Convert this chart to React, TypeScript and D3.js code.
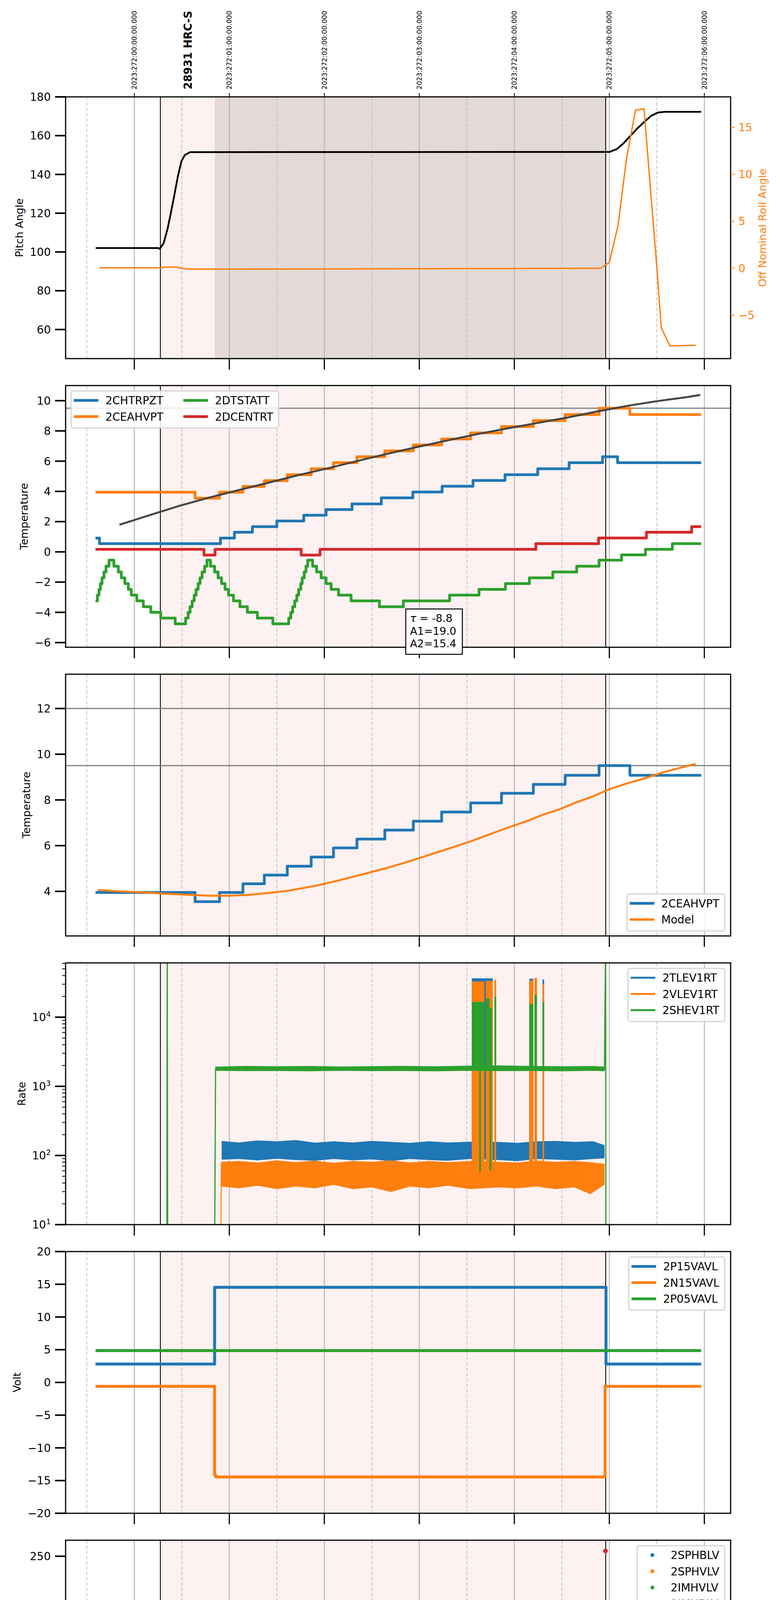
import React from 'react';
import * as d3 from 'd3';

// time is in minutes after 2023:272:00:00 UTC (the "20h" local tick)
const tDomain = [-43.4, 376.6];
const hourTicks = [0, 60, 120, 180, 240, 300, 360];
const halfTicks = [-30, 30, 90, 150, 210, 270, 330];
const hourLabels = ['20h', '21h', '22h', '23h', '00h', '01h', '02h'];
const doyLabels = hourTicks.map((_, k) => `2023:272:0${k}:00:00.000`);
const obsStart = 16.45;
const obsStop = 297.7;
const darkStart = 50.8;
const obsLabel = '28931 HRC-S';
const obsLabelTime = 34.0;

// panel 1: pitch and off nominal roll
const pitch = [[-24.4, 102.0], [15.1, 102.0], [16.0, 101.6], [18.5, 104.5], [21.0, 112], [23.3, 121], [25.25, 129.2], [27.5, 139], [29.7, 146.7], [31.9, 150.0], [35.2, 151.5], [300.0, 151.6], [304.8, 153.1], [309.0, 156.1], [313.2, 159.8], [317.4, 163.5], [322.2, 167.2], [326.4, 170.2], [330.6, 171.9], [334.8, 172.3], [358.0, 172.3]];
const roll = [[-22.2, 0.05], [16.4, 0.05], [19.8, 0.12], [26.5, 0.12], [31.2, -0.05], [37.2, -0.1], [120, -0.08], [210, -0.04], [294.4, 0.0], [300.0, 0.62], [305.5, 4.56], [310.8, 11.6], [316.5, 16.83], [321.9, 16.97], [330.3, -0.55], [332.8, -6.36], [338.2, -8.26], [354.5, -8.2]];

// panel 2 & 3: temperatures (step data, last point closes the step)
const ceahvpt = [[-24.5, 3.95], [38.4, 3.55], [53.8, 3.95], [68.6, 4.33], [82.1, 4.71], [96.6, 5.1], [111.7, 5.5], [125.8, 5.9], [140.6, 6.29], [158.2, 6.68], [176.2, 7.07], [194.1, 7.47], [212.4, 7.87], [231.9, 8.29], [252.0, 8.68], [272.1, 9.08], [293.5, 9.5], [313.0, 9.08], [358.0, 9.08]];
const chtrpzt = [[-24.5, 0.91], [-22.0, 0.54], [54.4, 0.91], [63.2, 1.3], [74.6, 1.67], [90.0, 2.04], [107.0, 2.42], [121.1, 2.8], [137.5, 3.17], [156.0, 3.57], [175.9, 3.96], [194.4, 4.34], [213.9, 4.72], [234.1, 5.1], [254.8, 5.5], [274.6, 5.9], [295.7, 6.29], [305.2, 5.9], [358.0, 5.9]];
const dcentrt = [[-24.5, 0.17], [44.0, -0.21], [51.0, 0.17], [105.4, -0.21], [117.3, 0.17], [253.6, 0.54], [293.2, 0.92], [323.4, 1.3], [352.0, 1.67], [358.0, 1.67]];
const dtstatt = [[-24.5, -3.24], [-23.3, -2.86], [-22.3, -2.48], [-21.4, -2.1], [-20.4, -1.72], [-19.2, -1.33], [-17.9, -0.95], [-16.0, -0.55], [-12.9, -0.95], [-10.1, -1.33], [-8.2, -1.72], [-6.0, -2.1], [-3.8, -2.48], [-1.9, -2.86], [1.6, -3.24], [5.7, -3.63], [10.4, -4.0], [16.7, -4.38], [25.8, -4.76], [32.4, -4.38], [34.0, -4.0], [35.2, -3.63], [36.5, -3.24], [37.8, -2.86], [39.0, -2.48], [40.3, -2.1], [41.5, -1.72], [42.8, -1.33], [44.4, -0.95], [45.9, -0.55], [48.1, -0.95], [50.7, -1.33], [52.9, -1.72], [55.1, -2.1], [57.3, -2.48], [59.5, -2.86], [62.6, -3.24], [66.7, -3.63], [71.4, -4.0], [77.7, -4.38], [87.5, -4.76], [97.5, -4.38], [98.8, -4.0], [100.0, -3.63], [101.3, -3.24], [102.6, -2.86], [103.8, -2.48], [105.1, -2.1], [106.0, -1.72], [107.3, -1.33], [108.4, -0.95], [109.5, -0.55], [112.6, -0.95], [115.1, -1.33], [118.0, -1.72], [121.1, -2.1], [124.3, -2.48], [129.0, -2.86], [136.9, -3.24], [154.8, -3.63], [169.9, -3.24], [199.1, -2.86], [217.7, -2.48], [234.4, -2.1], [249.5, -1.72], [264.3, -1.33], [279.4, -0.95], [293.5, -0.55], [307.7, -0.2], [322.8, 0.17], [339.8, 0.54], [358.0, 0.54]];
const fitLine = [[-9.4, 1.79], [9.4, 2.42], [28.3, 3.04], [47.2, 3.59], [66.1, 4.09], [84.9, 4.58], [103.8, 5.08], [122.7, 5.54], [141.6, 6.03], [160.4, 6.5], [179.3, 6.95], [198.2, 7.38], [217.1, 7.8], [236.0, 8.17], [254.8, 8.53], [273.7, 8.89], [292.6, 9.29], [311.5, 9.66], [330.3, 9.97], [349.2, 10.24], [357.4, 10.38]];
const fitText = ['τ = -8.8', 'A1=19.0', 'A2=15.4'];
const model = [[-23.0, 4.06], [-9.4, 4.0], [6.3, 3.95], [18.9, 3.9], [34.6, 3.85], [47.2, 3.81], [59.8, 3.81], [72.4, 3.85], [84.9, 3.93], [97.5, 4.03], [107.0, 4.15], [116.4, 4.27], [129.0, 4.48], [138.4, 4.64], [149.4, 4.84], [160.4, 5.04], [171.5, 5.27], [179.3, 5.44], [190.3, 5.69], [201.3, 5.93], [212.4, 6.19], [223.4, 6.47], [234.4, 6.75], [247.0, 7.05], [258.0, 7.35], [269.0, 7.6], [278.4, 7.87], [289.4, 8.15], [300.4, 8.48], [311.5, 8.73], [322.5, 8.95], [333.5, 9.2], [344.5, 9.4], [354.5, 9.58]];
const limits2 = [9.5];
const limits3 = [9.5, 12];

// panel 4: rates. bands are [t, low, high] envelopes of the dense noisy trace
const tlevBand = [[55.4, 88, 160], [66, 90, 152], [78, 86, 163], [90, 91, 158], [102, 87, 165], [114, 85, 151], [126, 90, 158], [138, 86, 152], [150, 89, 160], [162, 84, 155], [174, 90, 150], [186, 87, 158], [198, 85, 152], [212, 90, 156], [230, 87, 155], [242, 84, 150], [254, 90, 158], [266, 88, 160], [278, 86, 155], [290, 90, 158], [296.7, 92, 140]];
const vlevBand = [[54.9, 36, 80], [66, 34, 82], [78, 37, 78], [90, 33, 84], [102, 36, 79], [114, 34, 83], [126, 38, 77], [138, 33, 82], [150, 35, 80], [162, 30, 84], [174, 36, 78], [186, 34, 82], [198, 37, 79], [212, 33, 82], [230, 35, 80], [242, 34, 78], [254, 36, 83], [266, 33, 80], [278, 35, 82], [288, 28, 79], [296.7, 38, 75]];
const shevBand = [[51.3, 1700, 1900], [70, 1680, 1950], [90, 1690, 1920], [110, 1670, 1940], [130, 1700, 1910], [150, 1680, 1930], [170, 1690, 1950], [190, 1670, 1920], [210, 1700, 1960], [230, 1680, 1980], [250, 1690, 1950], [270, 1670, 1920], [290, 1700, 1940], [296.9, 1680, 1900]];
const shevEdges = [[[20.5, 1], [20.8, 1e5], [21.1, 1], [50.6, 1], [51.3, 1750]], [[296.9, 1750], [297.6, 1e5], [297.9, 1]]];
const vlevEdges = [[[54.5, 1], [54.9, 50]]];
// bursts: [t0, t1, low, high]
const tlevBursts = [[213.1, 226.4, 90, 36500], [249.4, 252.0, 90, 36000], [257.8, 258.8, 90, 35000]];
const vlevBursts = [[213.1, 221.1, 40, 33000], [222.0, 226.4, 40, 33500], [227.4, 228.5, 40, 35000], [249.4, 252.0, 40, 34000], [252.7, 254.3, 40, 37000], [257.8, 258.8, 40, 30000]];
const shevBursts = [[213.1, 221.1, 1750, 16600], [222.0, 224.4, 1750, 18600], [224.4, 226.0, 1750, 13600], [227.4, 228.5, 1750, 19800], [217.8, 218.9, 58, 1750], [224.4, 225.5, 60, 1750], [249.4, 252.0, 1750, 15500], [252.7, 254.3, 1750, 21000], [257.8, 258.8, 1750, 16600]];

// panel 5: voltages
const p15vavl = [[-24.5, 2.8], [50.7, 14.53], [297.9, 2.8], [358.0, 2.8]];
const n15vavl = [[-24.5, -0.6], [50.7, -14.2], [51.5, -14.45], [297.3, -0.6], [358.0, -0.6]];
const p05vavl = [[-24.5, 4.87], [358.0, 4.87]];

// panel 6: HV monitor points; runs are [t0, t1, value] of densely packed samples
const sphblvPts = [[52.2, 117.8], [52.5, 101.8], [52.6, 101], [53.2, 97.5], [53.8, 91.9], [54.1, 87.2], [54.7, 82.1], [55.4, 79.1]];
const sphblvRun = [55.4, 296.7, 77.5];
const sphvlvPts = [[52.2, 127.9], [52.2, 126], [52.9, 96], [53.5, 91], [54.1, 85.3], [54.7, 80.3], [55.4, 75], [214.6, 127], [217.1, 127], [250.1, 127], [258.0, 127]];
const sphvlvRun = [55.4, 296.7, 70.7];
const imhvlvPts = [];
const imhblvPts = [[297.6, 255.4]];

// panel 7: detector temps
const spinatm = [[50.7, 6.5], [51.2, 6.0], [52.2, 5.5], [55.1, 5.05], [58.2, 4.6], [62.0, 4.15], [67.0, 3.7], [72.4, 3.25], [81.2, 2.8], [96.9, 3.25], [98.2, 3.7], [100.0, 4.15], [101.3, 4.6], [102.6, 5.05], [103.8, 5.5], [105.4, 6.0], [107.0, 6.45], [108.5, 6.96], [110.1, 7.52], [110.7, 8.02], [112.0, 7.52], [112.6, 6.96], [115.1, 6.45], [118.0, 6.0], [121.1, 5.5], [123.3, 5.05], [126.5, 4.6], [130.6, 4.15], [137.8, 3.7], [147.9, 3.25], [178.7, 2.8], [200.7, 3.25], [264.3, 3.71], [296.7, 3.71]];
const sphvatm = [[50.7, 12.9], [51.2, 13.3], [59.8, 13.58], [64.5, 13.88], [68.6, 14.18], [73.0, 14.44], [77.4, 14.69], [82.4, 14.99], [87.5, 15.27], [93.8, 15.53], [100.0, 15.83], [107.6, 16.09], [115.5, 16.39], [123.3, 16.65], [132.1, 16.96], [142.2, 17.23], [152.6, 17.5], [165.2, 17.81], [177.7, 18.11], [191.0, 18.39], [204.5, 18.68], [229.0, 18.98], [232.2, 19.27], [248.5, 19.56], [266.8, 19.85], [283.8, 20.15], [296.7, 20.15]];
const iminatm = [[50.7, 0.23], [104.8, 0.64], [207.0, 1.07], [270.6, 1.5], [296.7, 1.5]];
const imhvatm = [[50.7, -3], [50.71, 12.77], [79.3, 13.1], [80.0, 12.77], [81.8, 13.04], [99.7, 13.32], [115.5, 13.62], [129.0, 13.88], [143.1, 14.16], [156.7, 14.44], [171.5, 14.7], [186.2, 14.98], [201.3, 15.25], [229.0, 15.53], [232.2, 15.81], [248.5, 16.1], [265.2, 16.39], [282.2, 16.65], [297.3, 16.65], [297.4, 25], [297.6, -3]];
const spinatmBursts = [[213.0, 220.5, -2, 3.3], [221.8, 223.3, -2, 3.3], [225.6, 228.4, -2, 3.3], [249.0, 250.3, -2, 3.25], [253.0, 254.2, -2, 3.25], [257.5, 258.7, -2, 3.25]];
const sphvatmBursts = [[213.0, 226.6, 10.76, 19.05], [227.0, 228.2, 11.0, 19.0], [249.0, 250.3, 11.45, 19.56], [252.8, 254.0, 11.45, 19.56], [257.5, 258.7, 11.6, 19.56]];
const iminatmBursts = [[213.0, 228.4, 0.94, 3.35], [249.0, 250.3, 1.07, 3.3], [252.8, 254.0, 1.07, 3.3], [257.5, 258.7, 1.07, 3.3]];
const imhvatmBursts = [[213.0, 229.0, 15.3, 19.05], [224.5, 225.6, 10.76, 15.3], [248.8, 250.0, 16.1, 19.66], [253.3, 254.5, 16.1, 19.66], [257.5, 258.7, 16.1, 19.66]];

// panel 8: FEA temps
const fhtrmzt = [[60.4, -11], [60.41, -10.03], [68.3, -9.65], [76.1, -9.24], [82.4, -8.81], [89.0, -8.4], [96.0, -7.98], [102.9, -7.59], [109.5, -7.17], [116.4, -6.76], [123.3, -6.38], [130.6, -5.97], [137.5, -5.57], [144.1, -5.19], [151.6, -4.81], [159.5, -4.4], [167.4, -4.0], [174.6, -3.62], [182.5, -3.24], [191.0, -2.86], [198.8, -2.48], [207.6, -2.1], [209.8, -1.7], [210.2, -2.1], [220.2, -1.76], [229.0, -1.4], [232.8, -0.97], [242.2, -0.61], [251.7, -0.24], [254.8, 0.9], [255.2, -0.24], [260.2, 0.15], [269.6, 0.53], [279.4, 0.91], [288.8, 1.29], [298.9, 1.66], [322.5, 1.29], [346.1, 0.91], [358.0, 0.91]];
const fradpyt = [[85.3, -11], [85.31, -10.03], [92.2, -9.65], [99.1, -9.24], [106.3, -8.79], [113.9, -8.4], [121.1, -7.95], [128.4, -7.55], [135.3, -7.17], [142.5, -6.76], [150.4, -6.38], [158.2, -5.97], [166.7, -5.57], [174.6, -5.19], [183.4, -4.81], [191.9, -4.4], [200.4, -4.0], [209.8, -3.62], [220.2, -3.24], [229.0, -2.86], [237.5, -2.48], [247.0, -2.1], [256.4, -1.72], [266.8, -1.34], [276.2, -0.99], [287.2, -0.61], [298.9, -0.24], [307.7, -0.61], [321.8, -0.99], [346.1, -1.37], [358.0, -1.37]];
const fepratm = [[52.2, -9.05], [54.4, -8.55], [56.3, -8.15], [58.5, -7.8], [61.7, -7.4], [66.1, -7.0], [70.8, -6.6], [76.1, -6.2], [81.8, -5.8], [87.5, -5.4], [93.8, -5.0], [100.7, -4.6], [107.6, -4.2], [114.8, -3.8], [122.1, -3.4], [129.6, -3.0], [137.5, -2.6], [145.3, -2.2], [153.2, -1.8], [161.1, -1.4], [169.3, -1.0], [178.4, -0.6], [187.2, -0.2], [196.6, 0.25], [206.1, 0.65], [229.0, 1.5], [237.5, 1.9], [247.6, 2.35], [258.0, 2.8], [269.6, 3.3], [280.6, 3.8], [296.7, 3.8]];
const fe00atm = [[50.7, -11], [50.71, -8.65], [56.0, -7.43], [56.4, -8.27], [62.9, -7.84], [67.6, -7.48], [72.4, -7.1], [74.6, -7.51], [75.0, -7.1], [77.1, -6.76], [81.5, -7.95], [82.0, -6.34], [87.5, -5.97], [92.8, -5.62], [98.2, -5.24], [103.8, -4.89], [108.5, -4.5], [111.7, -6.05], [112.1, -4.5], [115.5, -4.13], [121.1, -3.8], [128.4, -3.42], [135.3, -3.1], [139.1, -2.75], [143.1, -2.43], [149.4, -2.1], [154.2, -1.78], [162.0, -1.43], [168.3, -1.07], [173.7, -0.75], [179.3, -0.45], [181.8, -0.1], [182.2, -0.45], [186.2, -0.05], [193.5, 0.22], [199.8, 0.53], [206.1, 0.84], [210.8, 1.49], [211.2, 0.84], [229.0, 1.74], [234.4, 2.06], [240.7, 2.39], [248.5, 2.66], [254.8, 2.98], [262.7, 3.31], [268.0, 2.2], [268.4, 3.31], [270.6, 3.53], [280.0, 3.8], [297.3, 3.8], [297.4, 6], [297.6, -11]];
const fepratmBursts = [[213.0, 217.1, -4.64, 0.9], [218.6, 222.4, -4.64, 0.9], [223.2, 225.8, -4.64, 0.9], [226.8, 229.0, -4.64, 0.9], [249.5, 250.6, -4.64, 2.4], [253.5, 254.6, -4.64, 2.4], [257.5, 258.6, -4.64, 2.8]];
const fe00atmBursts = [[213.0, 229.0, 1.15, 5], [217.5, 218.6, -12, 1.15], [224.5, 225.6, -12, 1.15], [249.0, 252.6, 2.4, 5], [257.5, 258.6, 2.3, 5]];

const C = { blue: '#1f77b4', orange: '#ff7f0e', green: '#2ca02c', red: '#d62728' };
const PINK = '#fdf1f1';
const DARK = '#e4d9d9';
const FONT = '"DejaVu Sans", sans-serif';
const L = 168, R = 1871;
const PANEL_TOP = 248, PANEL_STEP = 739, PANEL_H = 670;
const FS = 28;
const X = d3.scaleLinear().domain(tDomain).range([L, R]);
const top = (i) => PANEL_TOP + i * PANEL_STEP;

let ctx = null;
function textW(s, size, weight = 'normal') {
  if (!ctx) ctx = document.createElement('canvas').getContext('2d');
  if (!ctx) return s.length * size * 0.62;
  ctx.font = `${weight} ${size}px "DejaVu Sans"`;
  return ctx.measureText(s).width;
}

const yLin = (i, dom) => d3.scaleLinear().domain(dom).range([top(i) + PANEL_H, top(i)]);
const step = (y) => d3.line().x(d => X(d[0])).y(d => y(d[1])).curve(d3.curveStepAfter);
const poly = (y) => d3.line().x(d => X(d[0])).y(d => y(d[1]));
const band = (y) => d3.area().x(d => X(d[0])).y0(d => y(d[1])).y1(d => y(d[2]));
const fmt0 = (v) => (v < 0 ? '\u2212' : '') + Math.abs(v);
const ticksOf = (vals, f = fmt0) => vals.map(v => ({ v, s: f(v) }));

function Bursts({ data, y, color }) {
  return (
    <g>
      {data.map((d, k) => (
        <rect key={k} x={X(d[0])} width={X(d[1]) - X(d[0])} y={y(d[3])} height={y(d[2]) - y(d[3])} fill={color} />
      ))}
    </g>
  );
}

function Steps({ data, y, color, w = 7 }) {
  return <path d={step(y)(data)} fill="none" stroke={color} strokeWidth={w} strokeLinejoin="round" />;
}

function Frame({ i, y, ticks, label, minor = [], children, extra }) {
  const t = top(i), b = t + PANEL_H;
  const wMax = Math.max(...ticks.map(k => textW(k.s, FS) + (k.sup ? textW(k.sup, 19) : 0)));
  const lx = 130 - wMax - 27;
  return (
    <g>
      <clipPath id={'clip' + i}><rect x={L} y={t} width={R - L} height={PANEL_H} /></clipPath>
      <rect x={X(obsStart)} y={t} width={X(obsStop) - X(obsStart)} height={PANEL_H} fill={PINK} />
      {i === 0 && <rect x={X(darkStart)} y={t} width={X(obsStop) - X(darkStart)} height={PANEL_H} fill={DARK} />}
      {halfTicks.map(h => <line key={'d' + h} x1={X(h)} x2={X(h)} y1={t} y2={b} stroke="#bdbdbd" strokeWidth={1.8} strokeDasharray="9 4.5" />)}
      {hourTicks.map(h => <line key={'g' + h} x1={X(h)} x2={X(h)} y1={t} y2={b} stroke="#b0b0b0" strokeWidth={2.2} />)}
      {[obsStart, obsStop].map(v => <line key={'o' + v} x1={X(v)} x2={X(v)} y1={t} y2={b} stroke="#000" strokeWidth={2.2} />)}
      <g clipPath={`url(#clip${i})`}>{children}</g>
      <rect x={L} y={t} width={R - L} height={PANEL_H} fill="none" stroke="#000" strokeWidth={3} />
      {ticks.map(k => (
        <g key={'yt' + k.v}>
          <line x1={L - 27} x2={L} y1={y(k.v)} y2={y(k.v)} stroke="#000" strokeWidth={4} />
          <text x={130} y={y(k.v)} dy="0.36em" textAnchor="end" fontSize={FS}>
            {k.s}{k.sup && <tspan dy="-0.6em" fontSize={19}>{k.sup}</tspan>}
          </text>
        </g>
      ))}
      {minor.map(v => <line key={'m' + v} x1={L - 9} x2={L} y1={y(v)} y2={y(v)} stroke="#000" strokeWidth={2} />)}
      {hourTicks.map(h => <line key={'xt' + h} x1={X(h)} x2={X(h)} y1={b} y2={b + 28} stroke="#000" strokeWidth={3} />)}
      <text transform={`translate(${lx},${(t + b) / 2}) rotate(-90)`} textAnchor="middle" dy="0.35em" fontSize={27}>{label}</text>
      {extra}
    </g>
  );
}

function Legend({ i, corner, items, ncol = 1, dots = false }) {
  const t = top(i), b = t + PANEL_H;
  const nrow = Math.ceil(items.length / ncol);
  const h = 53 + (nrow - 1) * 41.5;
  const cols = d3.range(ncol).map(c => items.slice(c * nrow, (c + 1) * nrow));
  const lead = dots ? 79 : 81;
  const colW = cols.map(col => lead + Math.max(...col.map(it => textW(it.label, FS))));
  const w = 7 + d3.sum(colW) + (ncol - 1) * 51 + 14;
  const x0 = corner === 'ul' ? L + 14 : R - 15 - w;
  const y0 = corner === 'lr' ? b - 13 - h : t + 14;
  let cx = x0 + 7;
  return (
    <g>
      <rect x={x0} y={y0} width={w} height={h} rx={6} fill="#fff" fillOpacity={0.85} stroke="#d4d4d4" strokeWidth={3} />
      {cols.map((col, c) => {
        const gx = cx;
        cx += colW[c] + 51;
        return col.map((it, r) => {
          const ry = y0 + 24 + r * 41.5;
          return (
            <g key={it.label}>
              {dots
                ? <circle cx={gx + 32} cy={ry} r={5} fill={it.color} />
                : <line x1={gx} x2={gx + 63} y1={ry} y2={ry} stroke={it.color} strokeWidth={it.w || 7} />}
              <text x={gx + lead} y={ry} dy="0.36em" fontSize={FS}>{it.label}</text>
            </g>
          );
        });
      })}
    </g>
  );
}

export default function App() {
  // panel scales
  const y1 = yLin(0, [45, 180]);
  const y1r = yLin(0, [-9.62, 18.24]);
  const y2 = yLin(1, [-6.31, 11.0]);
  const y3 = yLin(2, [2.05, 13.5]);
  const y4 = d3.scaleLog().domain([10, 61000]).range([top(3) + PANEL_H, top(3)]);
  const y5 = yLin(4, [-20, 20]);
  const y6 = yLin(5, [0, 266.3]);
  const y7 = yLin(6, [-0.85, 20.76]);
  const y8 = yLin(7, [-10.3, 3.56]);

  const logTicks = [1, 2, 3, 4].map(e => ({ v: Math.pow(10, e), s: '10', sup: String(e) }));
  const logMinor = [];
  [10, 100, 1000, 10000].forEach(base => d3.range(2, 10).forEach(m => { if (base * m <= 61000) logMinor.push(base * m); }));

  const t0 = top(0);
  const b7 = top(7) + PANEL_H;

  const panel1Extra = (
    <g>
      {hourTicks.map((h, k) => (
        <g key={'top' + h}>
          <line x1={X(h)} x2={X(h)} y1={t0} y2={t0 - 10} stroke="#000" strokeWidth={2} />
          <text transform={`translate(${X(h)},${t0 - 19}) rotate(-90)`} dy="0.35em" fontSize={17}>{doyLabels[k]}</text>
        </g>
      ))}
      <text transform={`translate(${X(obsLabelTime)},${t0 - 19}) rotate(-90)`} dy="0.35em" fontSize={27.5} fontWeight="bold">{obsLabel}</text>
      {[15, 10, 5, 0, -5].map(v => (
        <g key={'r' + v}>
          <line x1={R} x2={R + 10} y1={y1r(v)} y2={y1r(v)} stroke={C.orange} strokeWidth={2} />
          <text x={R + 20} y={y1r(v)} dy="0.36em" fontSize={FS} fill={C.orange}>{fmt0(v)}</text>
        </g>
      ))}
      <text transform={`translate(${1953},${t0 + PANEL_H / 2}) rotate(-90)`} textAnchor="middle" dy="0.35em" fontSize={27} fill={C.orange}>Off Nominal Roll Angle</text>
    </g>
  );

  const fitBox = (
    <g>
      <rect x={1039} y={1559} width={145} height={116} fill="#fff" stroke="#000" strokeWidth={2.5} />
      {fitText.map((s, k) => (
        <text key={s} x={1050} y={1592 + k * 32.5} fontSize={27}>
          {k === 0 ? <><tspan fontStyle="italic">τ</tspan>{s.slice(1)}</> : s}
        </text>
      ))}
    </g>
  );

  const bottomExtra = (
    <g>
      {halfTicks.map(h => <text key={'hl' + h} x={X(h)} y={b7 + 15} dy="0.36em" textAnchor="middle" fontSize={20}>30</text>)}
      {hourTicks.map((h, k) => <text key={'hr' + h} x={X(h)} y={b7 + 51} dy="0.36em" textAnchor="middle" fontSize={FS}>{hourLabels[k]}</text>)}
      <text x={(L + R) / 2} y={b7 + 89} dy="0.36em" textAnchor="middle" fontSize={31}>2023-09-29 (272)</text>
    </g>
  );

  const hline = (y, v) => <line key={'l' + v} x1={L} x2={R} y1={y(v)} y2={y(v)} stroke="#808080" strokeWidth={3} />;

  return (
    <svg width={2000} height={6200} style={{ position: 'absolute', left: 0, top: 0, background: '#fff' }} fontFamily={FONT}>
      <rect x={0} y={0} width={2000} height={6200} fill="#fff" />

      <Frame i={0} y={y1} ticks={ticksOf([60, 80, 100, 120, 140, 160, 180])} label="Pitch Angle" extra={panel1Extra}>
        <path d={poly(y1)(pitch)} fill="none" stroke="#000" strokeWidth={4.5} />
        <path d={poly(y1r)(roll)} fill="none" stroke={C.orange} strokeWidth={3.5} strokeLinejoin="round" />
      </Frame>

      <Frame i={1} y={y2} ticks={ticksOf([-6, -4, -2, 0, 2, 4, 6, 8, 10])} label="Temperature"
        extra={<g>{fitBox}<Legend i={1} corner="ul" ncol={2} items={[
          { label: '2CHTRPZT', color: C.blue }, { label: '2CEAHVPT', color: C.orange },
          { label: '2DTSTATT', color: C.green }, { label: '2DCENTRT', color: C.red }]} /></g>}>
        {limits2.map(v => hline(y2, v))}
        <Steps data={chtrpzt} y={y2} color={C.blue} />
        <Steps data={ceahvpt} y={y2} color={C.orange} />
        <Steps data={dtstatt} y={y2} color={C.green} />
        <Steps data={dcentrt} y={y2} color={C.red} />
        <path d={poly(y2)(fitLine)} fill="none" stroke="#454545" strokeWidth={5} />
      </Frame>

      <Frame i={2} y={y3} ticks={ticksOf([4, 6, 8, 10, 12])} label="Temperature"
        extra={<Legend i={2} corner="lr" items={[{ label: '2CEAHVPT', color: C.blue }, { label: 'Model', color: C.orange, w: 6 }]} />}>
        {limits3.map(v => hline(y3, v))}
        <Steps data={ceahvpt} y={y3} color={C.blue} />
        <path d={poly(y3)(model)} fill="none" stroke={C.orange} strokeWidth={5} />
      </Frame>

      <Frame i={3} y={y4} ticks={logTicks} minor={logMinor} label="Rate"
        extra={<Legend i={3} corner="ur" items={[
          { label: '2TLEV1RT', color: C.blue, w: 5 }, { label: '2VLEV1RT', color: C.orange, w: 5 }, { label: '2SHEV1RT', color: C.green, w: 5 }]} />}>
        <path d={band(y4)(tlevBand)} fill={C.blue} stroke={C.blue} strokeWidth={2} />
        <Bursts data={tlevBursts} y={y4} color={C.blue} />
        {vlevEdges.map((e, k) => <path key={k} d={poly(y4)(e)} fill="none" stroke={C.orange} strokeWidth={2.5} />)}
        <path d={band(y4)(vlevBand)} fill={C.orange} stroke={C.orange} strokeWidth={2} />
        <Bursts data={vlevBursts} y={y4} color={C.orange} />
        {shevEdges.map((e, k) => <path key={k} d={poly(y4)(e)} fill="none" stroke={C.green} strokeWidth={3} />)}
        <path d={band(y4)(shevBand)} fill={C.green} stroke={C.green} strokeWidth={2} />
        <Bursts data={shevBursts} y={y4} color={C.green} />
      </Frame>

      <Frame i={4} y={y5} ticks={ticksOf([-20, -15, -10, -5, 0, 5, 10, 15, 20])} label="Volt"
        extra={<Legend i={4} corner="ur" items={[
          { label: '2P15VAVL', color: C.blue }, { label: '2N15VAVL', color: C.orange }, { label: '2P05VAVL', color: C.green }]} />}>
        <Steps data={p15vavl} y={y5} color={C.blue} w={7.5} />
        <Steps data={n15vavl} y={y5} color={C.orange} w={7.5} />
        <Steps data={p05vavl} y={y5} color={C.green} w={7.5} />
      </Frame>

      <Frame i={5} y={y6} ticks={ticksOf([0, 50, 100, 150, 200, 250])} label="HV Monitor"
        extra={<Legend i={5} corner="ur" dots items={[
          { label: '2SPHBLV', color: C.blue }, { label: '2SPHVLV', color: C.orange },
          { label: '2IMHVLV', color: C.green }, { label: '2IMHBLV', color: C.red }]} />}>
        <line x1={X(sphblvRun[0])} x2={X(sphblvRun[1])} y1={y6(sphblvRun[2])} y2={y6(sphblvRun[2])} stroke={C.blue} strokeWidth={13} strokeLinecap="round" />
        {sphblvPts.map((d, k) => <circle key={'b' + k} cx={X(d[0])} cy={y6(d[1])} r={6} fill={C.blue} />)}
        <line x1={X(sphvlvRun[0])} x2={X(sphvlvRun[1])} y1={y6(sphvlvRun[2])} y2={y6(sphvlvRun[2])} stroke={C.orange} strokeWidth={11.5} strokeLinecap="round" />
        {sphvlvPts.map((d, k) => <circle key={'o' + k} cx={X(d[0])} cy={y6(d[1])} r={6} fill={C.orange} />)}
        {imhvlvPts.map((d, k) => <circle key={'g' + k} cx={X(d[0])} cy={y6(d[1])} r={6} fill={C.green} />)}
        {imhblvPts.map((d, k) => <circle key={'r' + k} cx={X(d[0])} cy={y6(d[1])} r={6} fill={C.red} />)}
      </Frame>

      <Frame i={6} y={y7} ticks={ticksOf([0, 2.5, 5, 7.5, 10, 12.5, 15, 17.5, 20], v => v.toFixed(1))} label="Detector Temp"
        extra={<Legend i={6} corner="ur" items={[
          { label: '2SPINATM', color: C.blue }, { label: '2SPHVATM', color: C.orange },
          { label: '2IMINATM', color: C.green }, { label: '2IMHVATM', color: C.red }]} />}>
        <Steps data={spinatm} y={y7} color={C.blue} w={6.5} />
        <Bursts data={spinatmBursts} y={y7} color={C.blue} />
        <Steps data={sphvatm} y={y7} color={C.orange} w={6.5} />
        <Bursts data={sphvatmBursts} y={y7} color={C.orange} />
        <Steps data={iminatm} y={y7} color={C.green} w={6.5} />
        <Bursts data={iminatmBursts} y={y7} color={C.green} />
        <Steps data={imhvatm} y={y7} color={C.red} w={6.5} />
        <Bursts data={imhvatmBursts} y={y7} color={C.red} />
      </Frame>

      <Frame i={7} y={y8} ticks={ticksOf([-10, -8, -6, -4, -2, 0, 2])} label="FEA Temp"
        extra={<g>{bottomExtra}<Legend i={7} corner="lr" items={[
          { label: '2FHTRMZT', color: C.blue }, { label: '2FRADPYT', color: C.orange },
          { label: '2FEPRATM', color: C.green }, { label: '2FE00ATM', color: C.red }]} /></g>}>
        <Steps data={fhtrmzt} y={y8} color={C.blue} w={6.5} />
        <Steps data={fradpyt} y={y8} color={C.orange} w={6.5} />
        <Steps data={fepratm} y={y8} color={C.green} w={6.5} />
        <Bursts data={fepratmBursts} y={y8} color={C.green} />
        <Steps data={fe00atm} y={y8} color={C.red} w={6.5} />
        <Bursts data={fe00atmBursts} y={y8} color={C.red} />
      </Frame>
    </svg>
  );
}
